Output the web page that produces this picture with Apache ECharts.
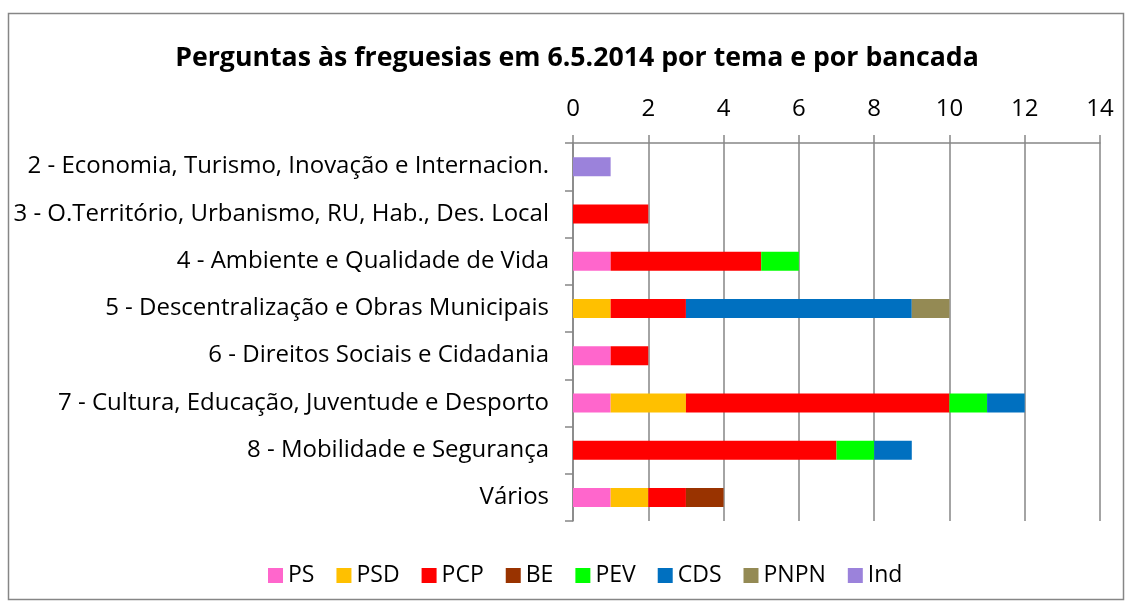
<!DOCTYPE html>
<html>
<head>
<meta charset="utf-8">
<script src="https://cdn.jsdelivr.net/npm/echarts@6/dist/echarts.min.js"></script>
<style>
  html, body { margin: 0; padding: 0; background: #fff; }
  #chart { width: 1131px; height: 606px; }
</style>
</head>
<body>
<div id="chart"></div>
<script>
  // temas (de cima para baixo)
  const temas = [
    "2 - Economia, Turismo, Inovação e Internacion.",
    "3 - O.Território, Urbanismo, RU, Hab., Des. Local",
    "4 - Ambiente e Qualidade de Vida",
    "5 - Descentralização e Obras Municipais",
    "6 - Direitos Sociais e Cidadania",
    "7 - Cultura, Educação, Juventude e Desporto",
    "8 - Mobilidade e Segurança",
    "Vários",
  ];

  const bancadas = ["PS", "PSD", "PCP", "BE", "PEV", "CDS", "PNPN", "Ind"];
  const cores = ["#ff66cc", "#ffc000", "#ff0000", "#993300", "#00ff00", "#0070c0", "#948a54", "#9b82db"];

  const ps   = [0, 0, 1, 0, 1, 1, 0, 1];
  const psd  = [0, 0, 0, 1, 0, 2, 0, 1];
  const pcp  = [0, 2, 4, 2, 1, 7, 7, 1];
  const be   = [0, 0, 0, 0, 0, 0, 0, 1];
  const pev  = [0, 0, 1, 0, 0, 1, 1, 0];
  const cds  = [0, 0, 0, 6, 0, 1, 1, 0];
  const pnpn = [0, 0, 0, 1, 0, 0, 0, 0];
  const ind  = [1, 0, 0, 0, 0, 0, 0, 0];
  const valores = [ps, psd, pcp, be, pev, cds, pnpn, ind];

  const fonte = "'Open Sans', sans-serif";
  const cinza = "#868686";

  const chart = echarts.init(document.getElementById("chart"));
  chart.setOption({
    animation: false,
    textStyle: { fontFamily: fonte },
    title: {
      text: "Perguntas às freguesias em 6.5.2014 por tema e por bancada",
      left: 572,
      textAlign: "center",
      top: 40,
      textStyle: { fontSize: 26.7, fontWeight: "bold", color: "#000", fontFamily: fonte },
    },
    graphic: [
      {
        type: "rect",
        shape: { x: 8.5, y: 13.5, width: 1115, height: 586 },
        style: { fill: "none", stroke: cinza, lineWidth: 1.5 },
        silent: true,
      },
    ],
    legend: {
      bottom: 14,
      left: 263,
      icon: "rect",
      itemWidth: 15,
      itemHeight: 15,
      itemGap: 22,
      textStyle: { fontSize: 23, color: "#000", fontFamily: fonte },
      data: bancadas,
    },
    grid: { left: 573, right: 31, top: 143, bottom: 85 },
    xAxis: {
      type: "value",
      position: "top",
      min: 0,
      max: 14,
      interval: 2,
      axisLine: { show: true, lineStyle: { color: cinza, width: 1.5 } },
      axisTick: { show: true, length: 8, lineStyle: { color: cinza, width: 1.5 } },
      splitLine: { show: true, lineStyle: { color: cinza, width: 1.5 } },
      axisLabel: { fontSize: 24, color: "#000", margin: 22, fontFamily: fonte },
    },
    yAxis: {
      type: "category",
      inverse: true,
      data: temas,
      axisLine: { show: true, lineStyle: { color: cinza, width: 1.5 } },
      axisTick: { show: true, length: 8, lineStyle: { color: cinza, width: 1.5 } },
      axisLabel: { fontSize: 24, color: "#000", margin: 24, fontFamily: fonte },
    },
    series: bancadas.map((nome, i) => ({
      name: nome,
      type: "bar",
      stack: "total",
      barWidth: 19,
      itemStyle: { color: cores[i] },
      data: valores[i],
    })),
  });
</script>
</body>
</html>
